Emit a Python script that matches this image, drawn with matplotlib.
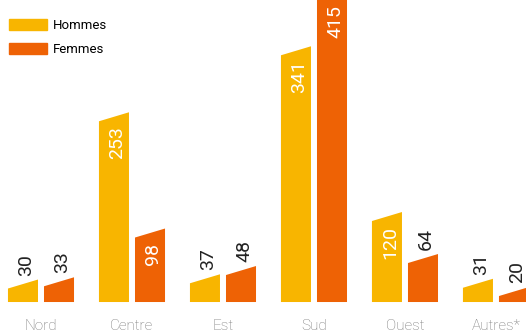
import numpy as np
import matplotlib.pyplot as plt
from matplotlib.patches import Polygon, Patch

# Effectifs par région
regions = ['Nord', 'Centre', 'Est', 'Sud', 'Ouest', 'Autres*']
hommes = [30, 253, 37, 341, 120, 31]
femmes = [33, 98, 48, 415, 64, 20]

c_hommes = '#F8B500'
c_femmes = '#EE6205'

plt.rcParams['font.family'] = ['Roboto', 'DejaVu Sans']

fig = plt.figure(figsize=(5.26, 3.36), dpi=100)
ax = fig.add_axes([0, 0, 1, 1])
ax.set_xlim(-0.4505, 5.33)
ax.set_ylim(-45.3, 402.7)
ax.axis('off')

largeur = 0.33
decal = 0.198
biseau = 12  # hauteur du biseau en haut des barres

def barre(x, v, couleur):
    x0, x1 = x - largeur / 2, x + largeur / 2
    pts = [(x0, 0), (x1, 0), (x1, v), (x0, max(v - biseau, 0))]
    ax.add_patch(Polygon(pts, closed=True, facecolor=couleur, edgecolor='none'))
    if v >= 90:
        ax.annotate(str(v), xy=(x, v), xytext=(3, -14), textcoords='offset pixels',
                    rotation=90, ha='center', va='top', color='white', fontsize=14,
                    annotation_clip=False)
    else:
        ax.annotate(str(v), xy=(x, v), xytext=(3, 4), textcoords='offset pixels',
                    rotation=90, ha='center', va='bottom', color='#222222', fontsize=14,
                    annotation_clip=False)

x = np.arange(len(regions))
for i in x:
    barre(i - decal, hommes[i], c_hommes)
    barre(i + decal, femmes[i], c_femmes)
    ax.text(i, -32, regions[i], ha='center', va='center', fontsize=11,
            color='#777777', fontweight='light')

ax.legend(handles=[Patch(color=c_hommes, label='Hommes'),
                   Patch(color=c_femmes, label='Femmes')],
          loc='upper left', bbox_to_anchor=(9 / 526, 1 - 19 / 336),
          frameon=False, fontsize=9.5, handlelength=2.9, handleheight=0.9,
          handletextpad=0.45, labelspacing=0.8, borderaxespad=0, borderpad=0)

fig.savefig('out.png', dpi=100)
